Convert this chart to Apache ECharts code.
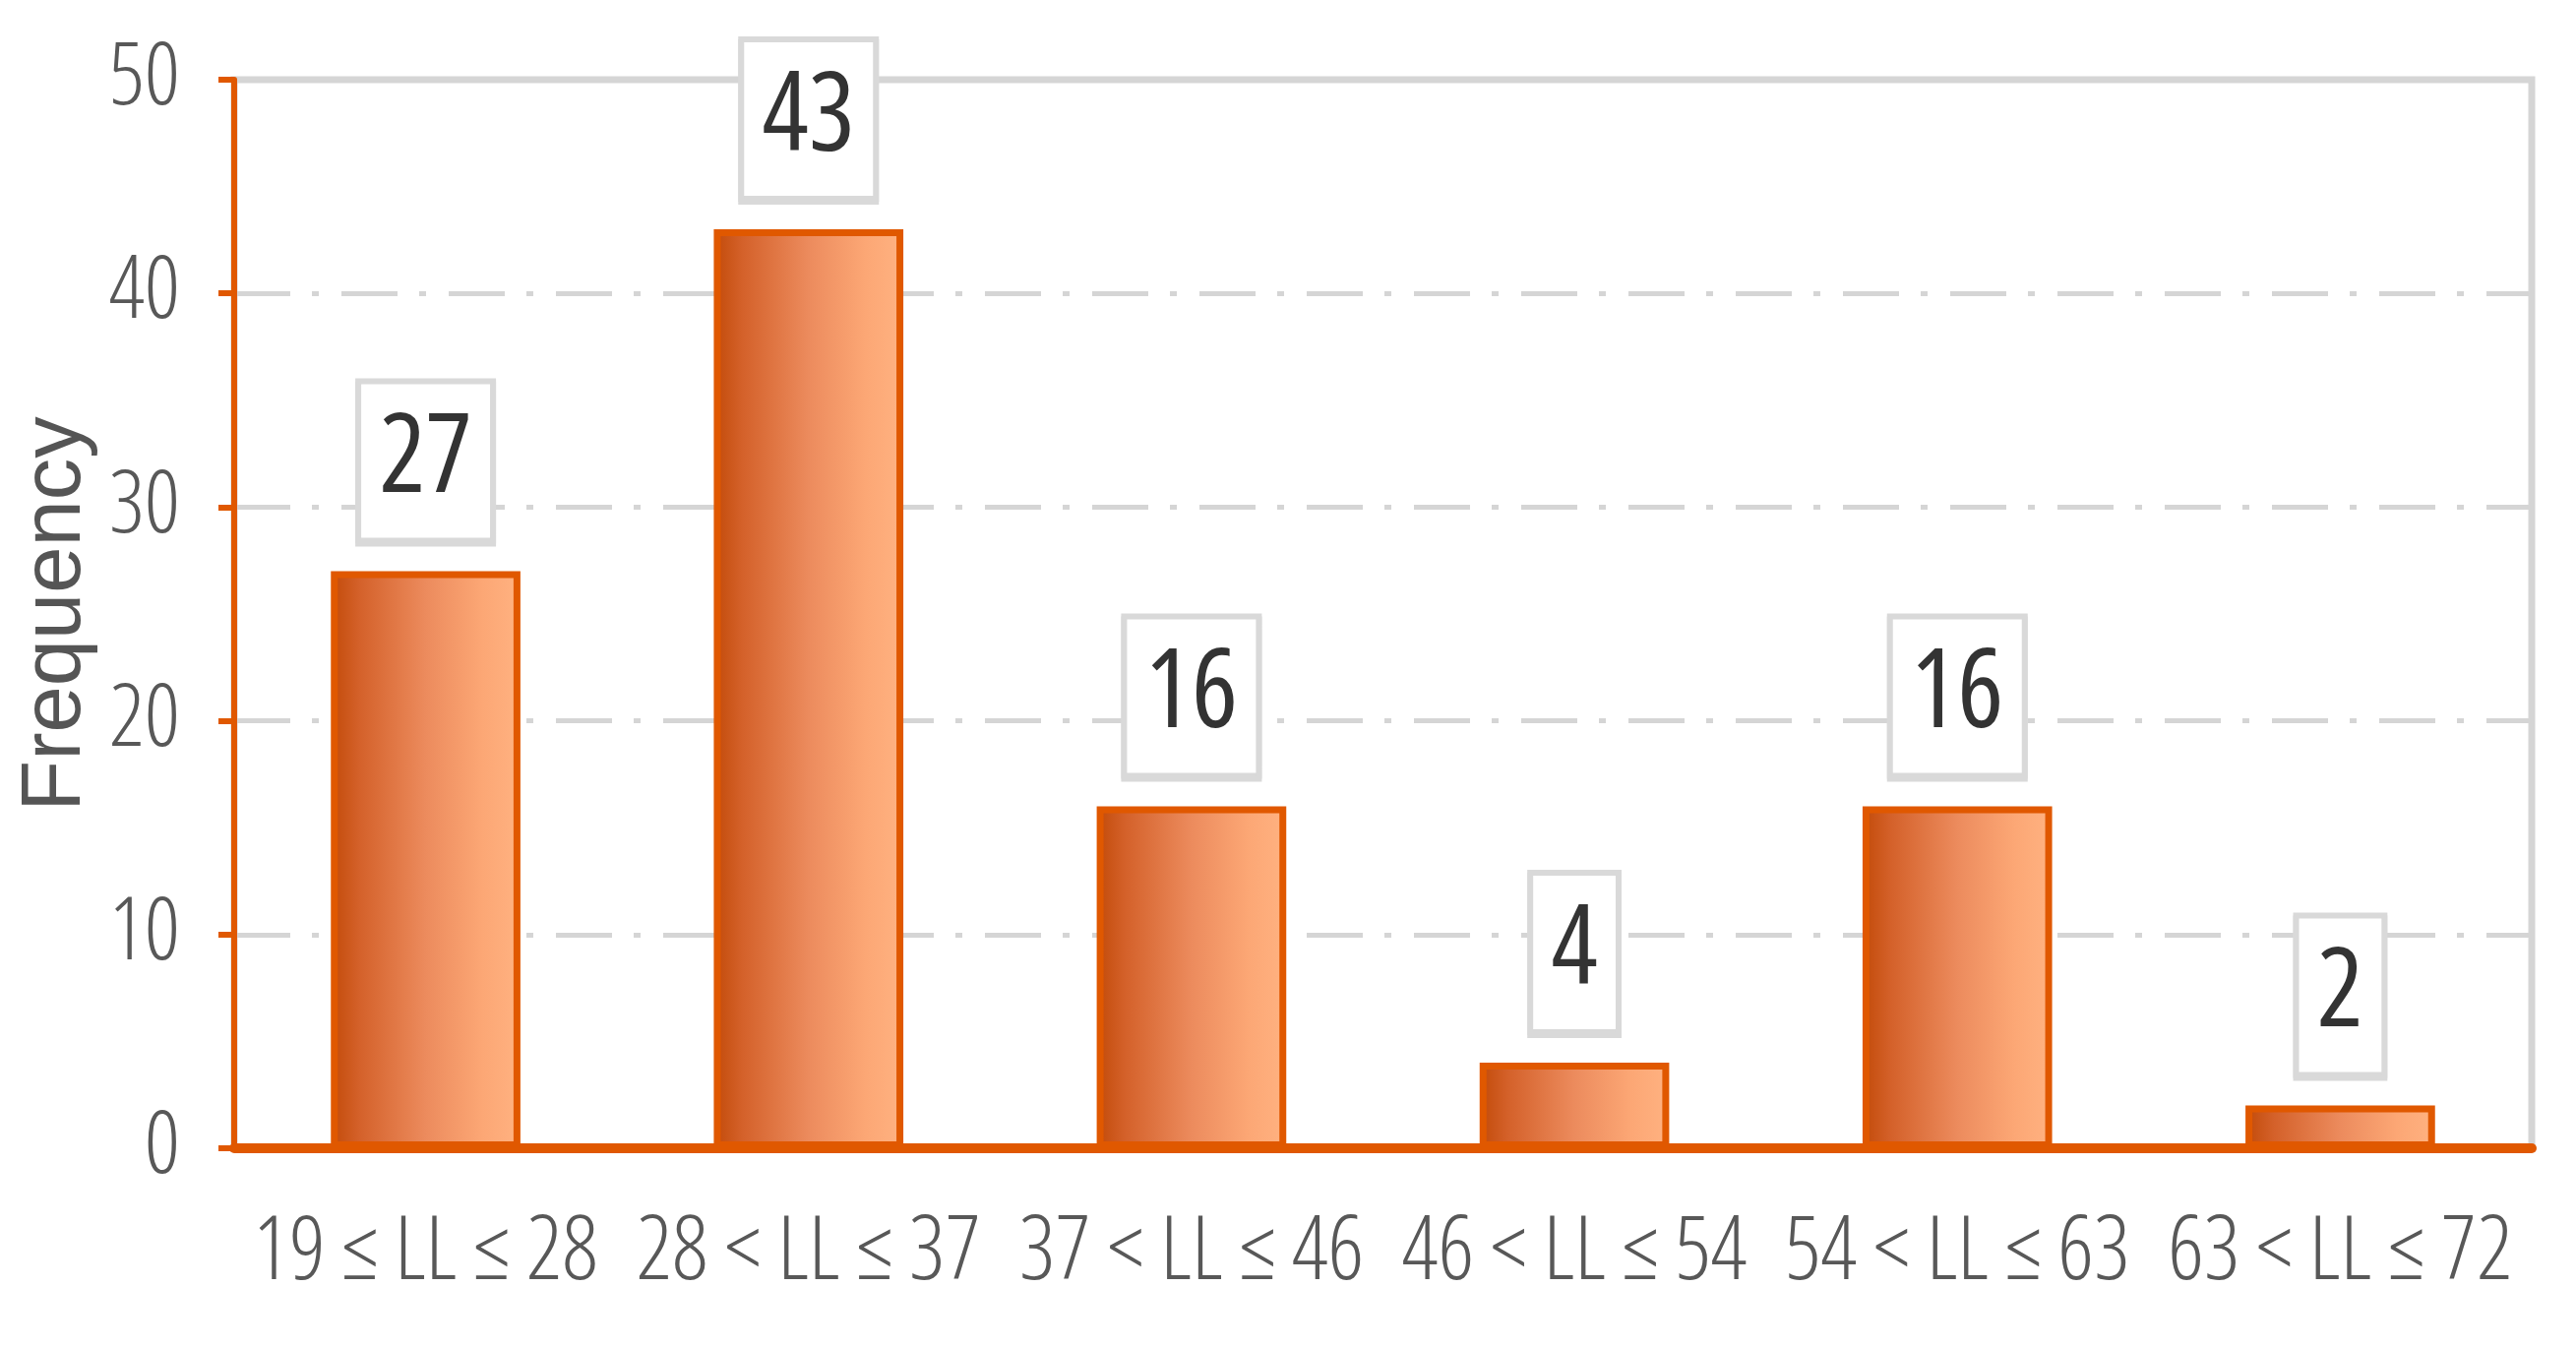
<!DOCTYPE html>
<html>
<head>
<meta charset="utf-8">
<script src="https://cdn.jsdelivr.net/npm/echarts@6/dist/echarts.min.js"></script>
<style>
html,body{margin:0;padding:0;background:#fff;}
#chart{width:2618px;height:1370px;}
</style>
</head>
<body>
<div id="chart"></div>
<script>
// ---- data ----
const categories = ['19 ≤ LL ≤ 28', '28 < LL ≤ 37', '37 < LL ≤ 46', '46 < LL ≤ 54', '54 < LL ≤ 63', '63 < LL ≤ 72'];
const frequencies = [27, 43, 16, 4, 16, 2];
const yMin = 0, yMax = 50, yStep = 10;
const yAxisTitle = 'Frequency';

// ---- pick the narrowest installed sans face (reference uses a condensed face) ----
const probe = document.createElement('canvas').getContext('2d');
function m(font, txt) { probe.font = font; return probe.measureText(txt); }
function exists(fam, st) {
  const t = 'mmmmwwwwlllii0123456789';
  const a = m(`${st} 100px ${fam}, monospace`, t).width, b = m('100px monospace', t).width;
  const c = m(`${st} 100px ${fam}, serif`, t).width, d = m('100px serif', t).width;
  return Math.abs(a - b) > 0.01 || Math.abs(c - d) > 0.01;
}
const candidates = [
  { fam: "'Noto Sans'", st: 'ultra-condensed' },
  { fam: "'Noto Sans'", st: 'extra-condensed' },
  { fam: "'Noto Sans ExtraCondensed'", st: '' },
  { fam: "'Noto Sans Condensed'", st: '' },
  { fam: "'Liberation Sans Narrow'", st: '' },
  { fam: "'Arial Narrow'", st: '' },
  { fam: "'Open Sans'", st: 'condensed' },
  { fam: "'Open Sans Condensed'", st: '' },
  { fam: "'Roboto Condensed'", st: '' },
  { fam: "'DejaVu Sans Condensed'", st: '' },
  { fam: "'Liberation Sans'", st: '' }
];
let best = null;
for (const c of candidates) {
  if (!exists(c.fam, c.st)) continue;
  const mm = m(`${c.st} 100px ${c.fam}`, '0');
  const adv = mm.width / 100, cap = (mm.actualBoundingBoxAscent || 71.6) / 100;
  if (c.st) {
    const plain = m(`100px ${c.fam}`, '0').width / 100;
    if (adv >= plain - 0.001) continue;
  }
  const ratio = adv / cap;
  if (!best || ratio < best.ratio) best = { ...c, adv, cap, ratio };
}
if (!best) best = { fam: "'Liberation Sans'", st: '', adv: 0.556, cap: 0.716, ratio: 0.78 };
const FAM = best.fam + ", 'Liberation Sans', sans-serif";
const STRETCH = best.st || 'normal';
const LIGHT = '300 ' + (best.st || '');

// font sizes balancing glyph height and width as seen in the reference
const barF = Math.sqrt((85 / best.cap) * (45 / best.adv));
const yF = Math.sqrt((72 / best.cap) * (34 / best.adv));
const xW100 = m(`300 ${best.st} 100px ${best.fam}`, '46 < LL ≤ 54').width;
const xF = Math.sqrt((71 / best.cap) * (324 * 100 / xW100));
const twoDigits = 2 * best.adv * barF;
const padH = Math.max(8, (137 - 6 - twoDigits) / 2);
const padV = Math.max(4, (162 - 6 - barF) / 2);

const ORANGE = '#e05800';
const GRID_GRAY = '#d5d5d5';
const TXT_GRAY = '#585858';

const chart = echarts.init(document.getElementById('chart'), null, { renderer: 'canvas' });
chart.setOption({
  backgroundColor: '#ffffff',
  animation: false,
  grid: {
    left: 238, right: 45, top: 81, bottom: 203,
    show: true, borderColor: GRID_GRAY, borderWidth: 7, backgroundColor: '#ffffff'
  },
  xAxis: {
    type: 'category',
    data: categories,
    axisLine: { show: true, lineStyle: { color: ORANGE, width: 10 } },
    axisTick: { show: false },
    axisLabel: {
      color: TXT_GRAY, fontFamily: FAM, fontWeight: LIGHT, fontSize: xF,
      lineHeight: xF, margin: 107 - xF / 2, interval: 0
    },
    splitLine: { show: false }
  },
  yAxis: {
    type: 'value',
    min: yMin, max: yMax, interval: yStep,
    name: yAxisTitle,
    nameLocation: 'middle',
    nameGap: 136,
    nameTextStyle: { color: '#555555', fontSize: 85, fontFamily: "'Liberation Sans', Arial, sans-serif" },
    axisLine: { show: true, lineStyle: { color: ORANGE, width: 6 } },
    axisTick: { show: true, length: 16, lineStyle: { color: ORANGE, width: 6 } },
    axisLabel: {
      color: TXT_GRAY, fontFamily: FAM, fontWeight: LIGHT, fontSize: yF,
      lineHeight: yF, margin: 55, padding: [0, 0, 16, 0]
    },
    splitLine: { show: true, lineStyle: { color: GRID_GRAY, width: 5, type: [57, 22, 7, 23] } }
  },
  series: [{
    type: 'bar',
    data: frequencies,
    barWidth: '49.5%',
    itemStyle: {
      color: {
        type: 'linear', x: 0, y: 0, x2: 1, y2: 0,
        colorStops: [
          { offset: 0, color: '#c24a08' },
          { offset: 0.15, color: '#d4612a' },
          { offset: 0.5, color: '#ec8b5d' },
          { offset: 0.8, color: '#fca775' },
          { offset: 1, color: '#ffb281' }
        ]
      },
      borderColor: ORANGE,
      borderWidth: 7
    },
    label: {
      show: true,
      position: 'top',
      distance: 34,
      color: '#333333',
      fontFamily: FAM, fontWeight: STRETCH,
      fontSize: barF, lineHeight: barF,
      backgroundColor: '#ffffff',
      borderColor: '#d9d9d9', borderWidth: 6,
      padding: [padV, padH],
      shadowColor: '#d9d9d9', shadowOffsetY: 3, shadowBlur: 0
    }
  }]
});
</script>
</body>
</html>
